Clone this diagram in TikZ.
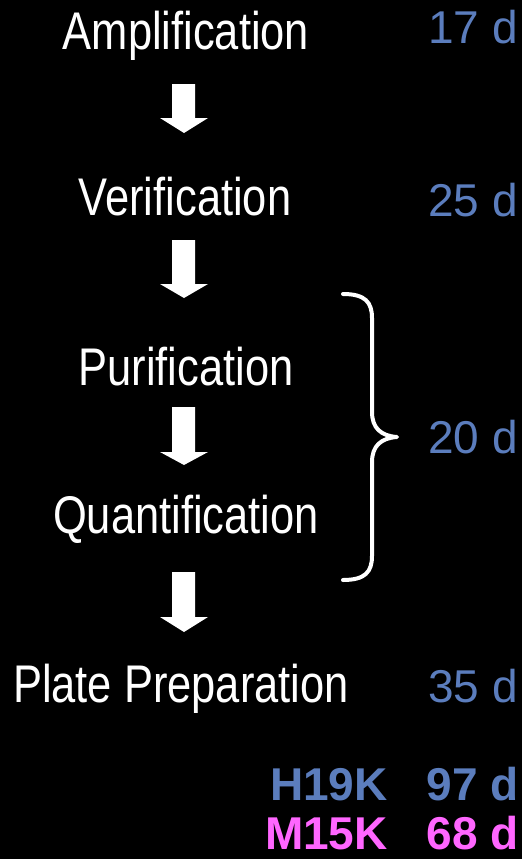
\documentclass[tikz,border=0pt]{standalone}
\usepackage{fontspec}
\setmainfont{Liberation Sans}
\newfontfamily\narrowfont[FakeStretch=0.82]{Liberation Sans}
\definecolor{daysblue}{HTML}{5B7DBD}
\definecolor{daysmag}{HTML}{FF66FF}
\begin{document}
\begin{tikzpicture}[x=1pt,y=-1pt,
  stepname/.style={inner sep=0pt, anchor=base, text=white, font=\narrowfont\fontsize{53}{60}\selectfont},
  days/.style={inner sep=0pt, anchor=base east, text=daysblue, font=\fontsize{46}{52}\selectfont},
  total/.style={inner sep=0pt, anchor=base east, text depth=0pt, font=\bfseries\fontsize{46}{52}\selectfont},
  blockarrow/.style={fill=white, draw=none}]
\fill[black] (0,0) rectangle (522,859);
\useasboundingbox (0,0) rectangle (522,859);

% steps
\node[stepname] (amp) at (186,50) {Amplification};
\node[stepname] (ver) at (185,215) {Verification};
\node[stepname] (pur) at (186,385) {Purification};
\node[stepname] (qua) at (186,533) {Quantification};
\node[stepname] (pla) at (181,702) {Plate Preparation};

% durations
\node[days] (d17) at (518,44) {17 d};
\node[days] (d25) at (518,216) {25 d};
\node[days] (d20) at (518,453) {20 d};
\node[days] (d35) at (518,702) {35 d};

% totals
\node[total, text=daysblue] (h19k) at (388,800) {H19K};
\node[total, text=daysblue] (h19kd) at (519,800) {97 d};
\node[total, text=daysmag] (m15k) at (388,849) {M15K};
\node[total, text=daysmag] (m15kd) at (519,849) {68 d};

% block arrows
\newcommand{\blockarr}[3]{%
  \fill[white] (172,#1) -- (195,#1) -- (195,#2) -- (208,#2) -- (184,#3) -- (160,#2) -- (172,#2) -- cycle;}
\blockarr{84}{118}{133}
\blockarr{240}{284}{298}
\blockarr{407}{452}{465}
\blockarr{572}{617}{632}

% brace
\draw[white, line width=4pt, line cap=round, line join=round]
  (343,294) .. controls (365,294) and (372,302) .. (372,318)
  -- (372,412) .. controls (372,428) and (381,436) .. (397,437)
  .. controls (381,438) and (372,446) .. (372,462)
  -- (372,556) .. controls (372,572) and (365,580) .. (343,580);
\end{tikzpicture}
\end{document}
